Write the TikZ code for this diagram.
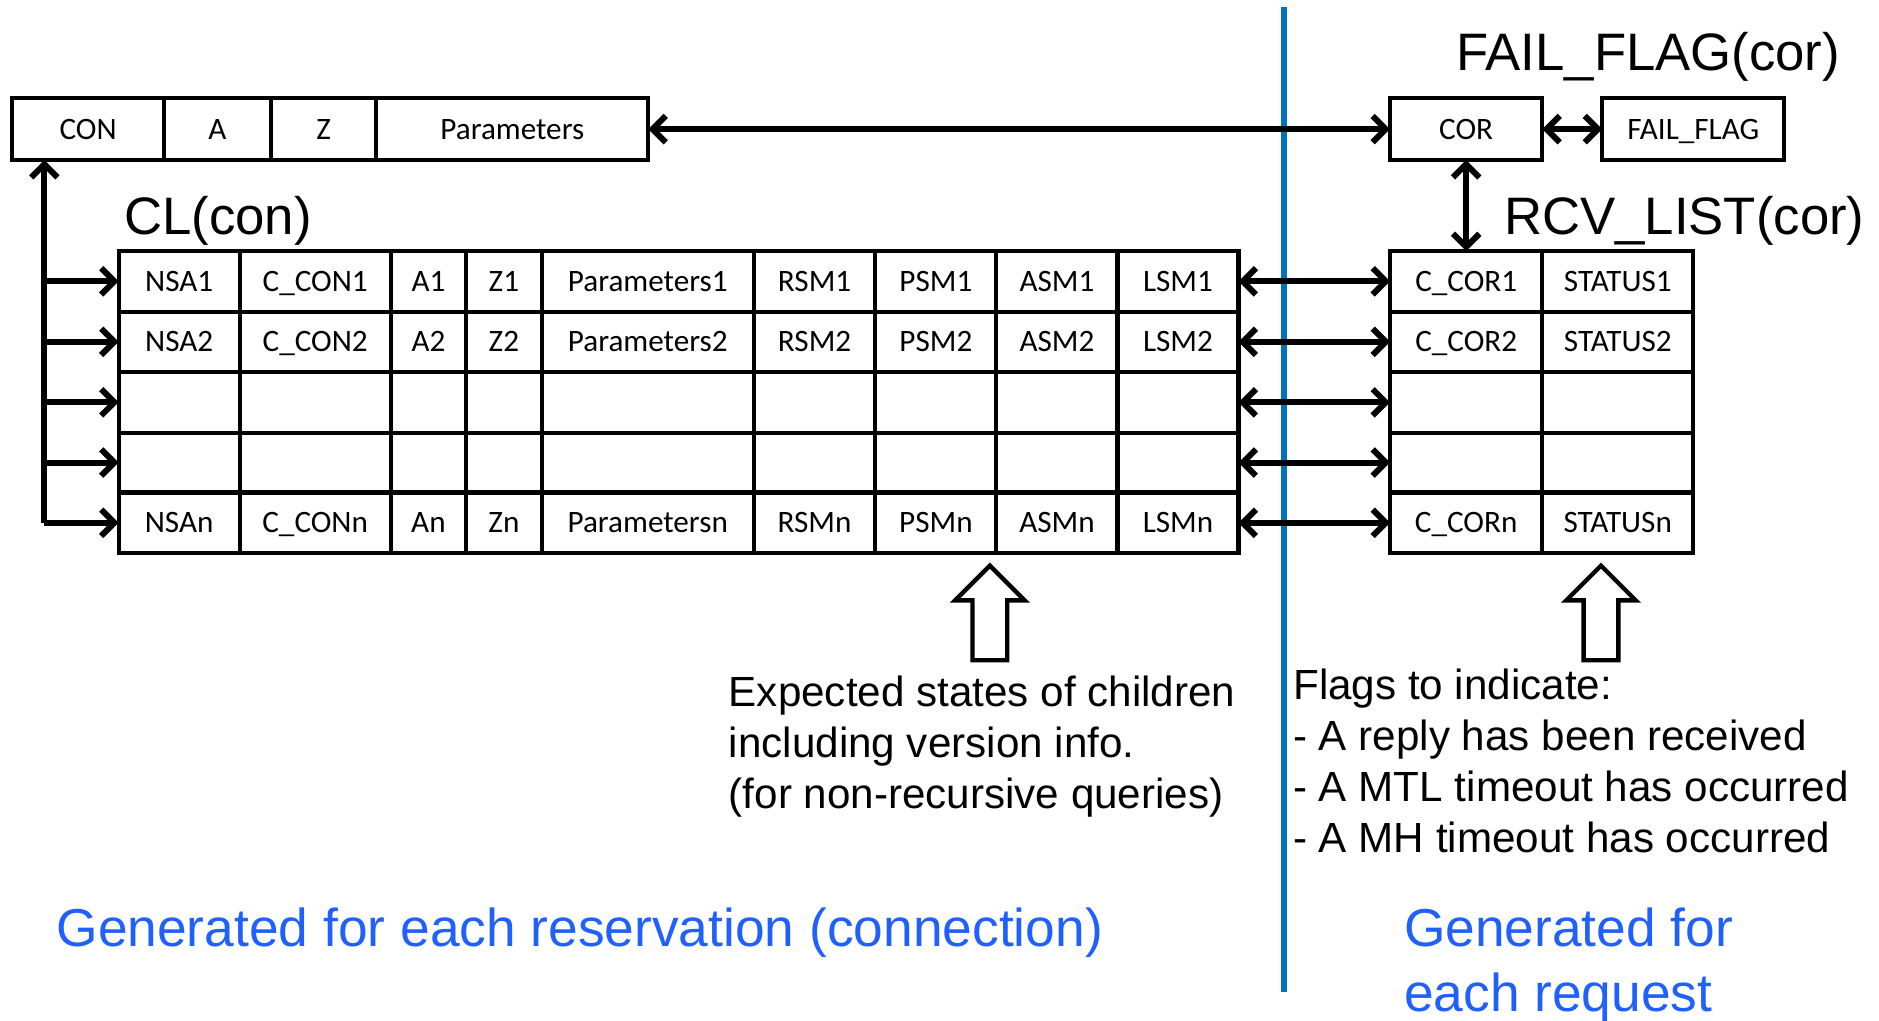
\documentclass[tikz,border=0pt]{standalone}
\usepackage{fontspec}
\setmainfont{Liberation Sans}
\newfontfamily\cellfont{Carlito}
\usetikzlibrary{arrows.meta}
\definecolor{divblue}{RGB}{0,112,192}
\definecolor{txtblue}{RGB}{32,96,255}
\newcommand{\mkcell}[6]{\node[cell, minimum width={#4-#2}, minimum height={#5-#3}] (#1) at ({(#2+#4)/2},{(#3+#5)/2}) {#6};}
\def\blankmark{x}
\begin{document}
\begin{tikzpicture}[x=1pt,y=-1pt,
  cell/.style={draw, line width=3.4pt, inner sep=0pt, outer sep=0pt, text height=16.5pt, text depth=0pt, font=\cellfont\fontsize{26}{30}\selectfont},
  conn/.style={draw, line width=5pt, arrows={Straight Barb[length=11pt,width=22pt]-Straight Barb[length=11pt,width=22pt]}},
  oneway/.style={draw, line width=5pt, arrows={-Straight Barb[length=11pt,width=22pt]}},
  bigtxt/.style={anchor=base west, inner sep=0pt, font=\fontsize{44}{52}\selectfont},
  note/.style={anchor=base west, inner sep=0pt, font=\fontsize{35.2}{42}\selectfont},
  bluetxt/.style={anchor=base west, inner sep=0pt, text=txtblue, font=\fontsize{44.5}{52}\selectfont},
  blockarrow/.style={draw, fill=white, line width=3.6pt, line join=miter}
]
\useasboundingbox (0,0) rectangle (1568,852);

% divider line
\draw[divblue, line width=4.6pt] (1071.5,6) -- (1071.5,827.5);

% top row boxes
\mkcell{con}{10}{82}{137}{133.5}{CON}
\mkcell{ta}{137}{82}{226}{133.5}{A}
\mkcell{tz}{226}{82}{314}{133.5}{Z}
\mkcell{tp}{314}{82}{541}{133.5}{Parameters}
\mkcell{cor}{1160}{82}{1287}{133.5}{COR}
\mkcell{ff}{1337}{82}{1489}{133.5}{FAIL\_FLAG}

% CL table and RCV_LIST table
\foreach \yt/\yb/\s [count=\i] in {209.5/260/1, 260/310.5/2, 310.5/361/x, 361/411/x, 411/461.5/n}{
  \ifx\s\blankmark\def\lbl##1{}\else\def\lbl##1{##1\s}\fi
  \mkcell{cl-\i-1}{99}{\yt}{200}{\yb}{\lbl{NSA}}
  \mkcell{cl-\i-2}{200}{\yt}{326}{\yb}{\lbl{C\_CON}}
  \mkcell{cl-\i-3}{326}{\yt}{389}{\yb}{\lbl{A}}
  \mkcell{cl-\i-4}{389}{\yt}{452}{\yb}{\lbl{Z}}
  \mkcell{cl-\i-5}{452}{\yt}{629}{\yb}{\lbl{Parameters}}
  \mkcell{cl-\i-6}{629}{\yt}{730.5}{\yb}{\lbl{RSM}}
  \mkcell{cl-\i-7}{730.5}{\yt}{831.5}{\yb}{\lbl{PSM}}
  \mkcell{cl-\i-8}{831.5}{\yt}{932.5}{\yb}{\lbl{ASM}}
  \mkcell{cl-\i-9}{932.5}{\yt}{1033.5}{\yb}{\lbl{LSM}}
  \mkcell{rc-\i-1}{1160}{\yt}{1287}{\yb}{\lbl{C\_COR}}
  \mkcell{rc-\i-2}{1287}{\yt}{1413}{\yb}{\lbl{STATUS}}
}

% labels
\node[bigtxt] (lblff) at (1215,58.5) {FAIL\_FLAG(cor)};
\node[bigtxt] (lblcl) at (103.5,196) {CL(con)};
\node[bigtxt] (lblrcv) at (1255,196) {RCV\_LIST(cor)};

% connectors top
\draw[conn] (tp.east) -- (cor.west);
\draw[conn] (cor.east) -- (ff.west);
\draw[conn] (cor.south) -- (rc-1-1.north);

% left bus
\coordinate (bus) at (37,436.25);
\draw[oneway] (bus) -- (bus |- con.south);
\foreach \i in {1,...,5}{
  \draw[oneway] (bus |- cl-\i-1.west) -- (cl-\i-1.west);
  \draw[conn] (cl-\i-9.east) -- (rc-\i-1.west);
}

% block arrows
\draw[blockarrow] (826,472) -- (855,501) -- (840.5,501) -- (840.5,551) -- (811.5,551) -- (811.5,501) -- (797,501) -- cycle;
\draw[blockarrow] (1336,472) -- (1365,501) -- (1350.5,501) -- (1350.5,551) -- (1321.5,551) -- (1321.5,501) -- (1307,501) -- cycle;

% notes
\node[note] (n1) at (608,589.7) {Expected states of children};
\node[note] (n2) at (608,632.2) {including version info.};
\node[note] (n3) at (608,674.7) {(for non-recursive queries)};
\node[note] (f1) at (1079,584) {Flags to indicate:};
\node[note] (f2) at (1079,626.5) {- A reply has been received};
\node[note] (f3) at (1079,669) {- A MTL timeout has occurred};
\node[note] (f4) at (1079,711.5) {- A MH timeout has occurred};

% blue captions
\node[bluetxt] (g1) at (47,790) {Generated for each reservation (connection)};
\node[bluetxt] (g2) at (1171.5,790) {Generated for};
\node[bluetxt] (g3) at (1171.5,844) {each request};
\end{tikzpicture}
\end{document}
